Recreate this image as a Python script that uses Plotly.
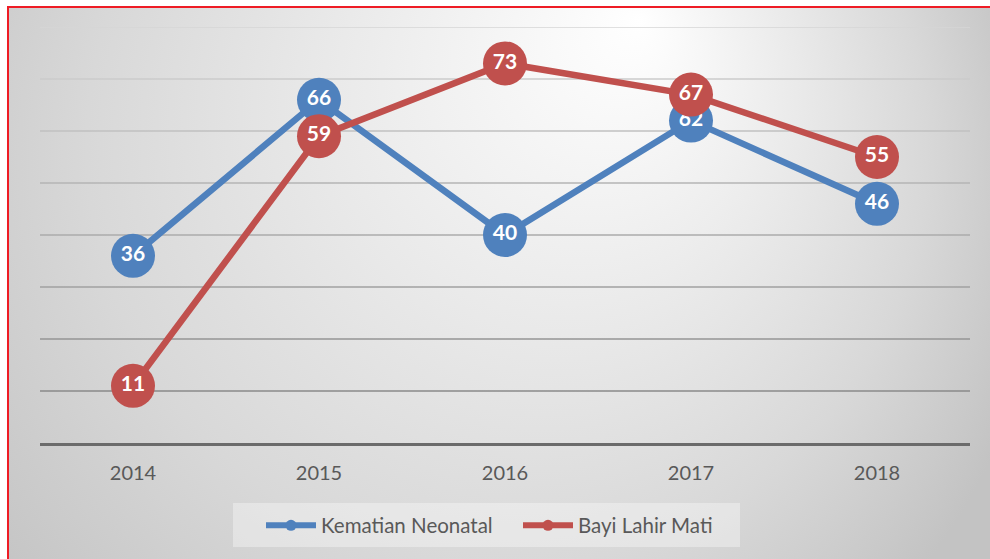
import base64
import plotly.graph_objects as go

# ---- data ----
years = ["2014", "2015", "2016", "2017", "2018"]
kematian_neonatal = [36, 66, 40, 62, 46]
bayi_lahir_mati = [11, 59, 73, 67, 55]
grid_values = [10, 20, 30, 40, 50, 60, 70, 80]

# ---- styles ----
BLUE = "#4f81bd"
RED = "#c0504d"
TEXT = "#595959"
FONT = "Lato"

W, H = 990, 559
L, R, T, B = 40, 20, 27, 116
PW, PH = W - L - R, H - T - B

svg = f'''<svg xmlns="http://www.w3.org/2000/svg" width="{W}" height="{H}" viewBox="0 0 {W} {H}" preserveAspectRatio="none">
<defs><radialGradient id="g" gradientUnits="userSpaceOnUse" cx="450" cy="200" r="600" fx="640" fy="20">
<stop offset="0" stop-color="#ffffff"/><stop offset="0.4" stop-color="#e9e9e9"/>
<stop offset="0.7" stop-color="#d8d8d8"/><stop offset="1" stop-color="#c3c3c3"/></radialGradient></defs>
<rect width="{W}" height="{H}" fill="#ffffff"/>
<rect x="8" y="7" width="{W + 20}" height="{H + 20}" fill="url(#g)" stroke="#ee1c25" stroke-width="2"/>
<rect x="233" y="503" width="507" height="44" fill="#ffffff" fill-opacity="0.35"/>
</svg>'''
bg_src = "data:image/svg+xml;base64," + base64.b64encode(svg.encode()).decode()


def grid_color(i, n):
    top, bottom = 0xd6, 0x8a
    c = int(round(bottom + (top - bottom) * i / (n - 1)))
    return f"rgb({c},{c},{c})"


fig = go.Figure()

series = [("Kematian Neonatal", kematian_neonatal, BLUE),
          ("Bayi Lahir Mati", bayi_lahir_mati, RED)]

for name, vals, col in series:
    fig.add_trace(go.Scatter(
        x=years, y=vals, name=name, mode="lines+markers+text",
        text=[str(v) for v in vals], textposition="middle center",
        textfont=dict(family=FONT, size=21, color="white", weight="bold"),
        line=dict(color=col, width=6.5),
        marker=dict(color=col, size=44),
        showlegend=False, cliponaxis=False,
    ))

for name, vals, col in series:
    fig.add_trace(go.Scatter(
        x=[None], y=[None], name=name, mode="lines+markers",
        line=dict(color=col, width=6), marker=dict(color=col, size=11),
        showlegend=True,
    ))

shapes = []
n = len(grid_values)
for i, v in enumerate(grid_values):
    shapes.append(dict(type="line", xref="paper", x0=0, x1=1, yref="y", y0=v, y1=v,
                       line=dict(color=grid_color(i, n), width=1.5), layer="below"))

fig.update_layout(
    width=W, height=H,
    margin=dict(l=L, r=R, t=T, b=B),
    paper_bgcolor="white",
    plot_bgcolor="rgba(0,0,0,0)",
    images=[dict(source=bg_src, xref="paper", yref="paper",
                 x=-L / PW, y=1 + T / PH, sizex=W / PW, sizey=H / PH,
                 xanchor="left", yanchor="top", sizing="stretch", layer="below")],
    shapes=shapes,
    xaxis=dict(type="category", range=[-0.5, 4.5], showgrid=False, zeroline=False,
               showline=True, linecolor="#6b6b6b", linewidth=3, ticks="",
               ticklabelstandoff=10,
               tickfont=dict(family=FONT, size=20, color=TEXT)),
    yaxis=dict(range=[0, 80], showgrid=False, zeroline=False, showticklabels=False,
               showline=False),
    legend=dict(orientation="h", x=(261 - L) / PW, xanchor="left",
                y=(443 - 505.5) / PH, yanchor="top",
                bgcolor="rgba(0,0,0,0)",
                font=dict(family=FONT, size=20.5, color=TEXT),
                itemwidth=50, entrywidth=192),
    hovermode=False,
)

fig.write_html("out.html", config={"displayModeBar": False},
               post_script="document.body.style.margin='0';document.body.style.overflow='hidden';")
